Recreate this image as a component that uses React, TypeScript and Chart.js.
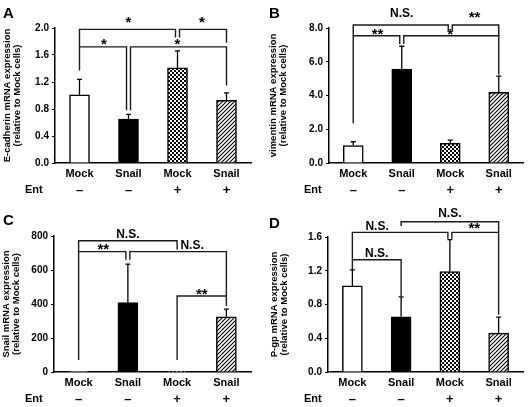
import React, { useEffect, useRef } from 'react';
import { Chart, registerables } from 'chart.js';
Chart.register(...registerables);

const FONT = "'Liberation Sans', Arial, sans-serif";

// ---- data ----
const categories = ['Mock', 'Snail', 'Mock', 'Snail'];
const entTreatment = ['–', '–', '+', '+'];

const eCadherinMeans = [1.01, 0.65, 1.41, 0.93];
const eCadherinErrors = [0.23, 0.07, 0.25, 0.11];
const vimentinMeans = [1.03, 5.57, 1.17, 4.19];
const vimentinErrors = [0.23, 1.35, 0.19, 0.96];
const snailMeans = [1, 408, 1.5, 325];
const snailErrors = [0, 227, 0, 45];
const pgpMeans = [1.02, 0.655, 1.19, 0.46];
const pgpErrors = [0.19, 0.235, 0.38, 0.19];

// significance brackets: group indices, bracket level and leg ends in data units
const eCadherinBrackets = [
  { from: 0, to: 2, level: 1.98, leftEnd: 1.72, rightEnd: 1.86, label: '*', lift: 9, shift: 0 },
  { from: 2, to: 3, level: 1.98, leftEnd: 1.86, rightEnd: 1.78, label: '*', lift: 9, shift: 0 },
  { from: 0, to: 1, level: 1.72, leftEnd: 1.37, rightEnd: 0.78, label: '*', lift: 5, shift: 0 },
  { from: 1, to: 3, level: 1.72, leftEnd: 0.78, rightEnd: 1.15, label: '*', lift: 5, shift: 0 },
];
const vimentinBrackets = [
  { from: 0, to: 2, level: 8.18, leftEnd: 7.54, rightEnd: 7.84, label: 'N.S.', lift: 12, shift: 0 },
  { from: 2, to: 3, level: 8.18, leftEnd: 7.84, rightEnd: 7.54, label: '**', lift: 10, shift: 0 },
  { from: 0, to: 1, level: 7.54, leftEnd: 2.35, rightEnd: 7.05, label: '**', lift: 4, shift: 0 },
  { from: 1, to: 3, level: 7.54, leftEnd: 7.05, rightEnd: 5.25, label: '*', lift: 4, shift: 0 },
];
const snailBrackets = [
  { from: 0, to: 2, level: 772, leftEnd: 708, rightEnd: 721, label: 'N.S.', lift: 7, shift: 0 },
  { from: 0, to: 1, level: 708, leftEnd: 70, rightEnd: 660, label: '**', lift: 5, shift: 0 },
  { from: 1, to: 3, level: 708, leftEnd: 660, rightEnd: 447, label: 'N.S.', lift: 7, shift: 15 },
  { from: 2, to: 3, level: 447, leftEnd: 70, rightEnd: 388, label: '**', lift: 4, shift: 0 },
];
const pgpBrackets = [
  { from: 1, to: 3, level: 1.78, leftEnd: 1.73, rightEnd: 1.655, label: 'N.S.', lift: 9, shift: 0 },
  { from: 0, to: 2, level: 1.655, leftEnd: 1.33, rightEnd: 1.58, label: 'N.S.', lift: 7, shift: -24 },
  { from: 2, to: 3, level: 1.655, leftEnd: 1.58, rightEnd: 0.68, label: '**', lift: 6, shift: 0 },
  { from: 0, to: 1, level: 1.33, leftEnd: 1.21, rightEnd: 0.9, label: 'N.S.', lift: 7, shift: 0 },
];

type Bracket = { from: number; to: number; level: number; leftEnd: number; rightEnd: number; label: string; lift: number; shift: number };

type PanelCfg = {
  letter: string;
  title: string[];
  means: number[];
  errors: number[];
  brackets: Bracket[];
  yMax: number;
  step: number;
  decimals: number;
  x: number; y: number; w: number; h: number;
  left: number; top: number; right: number; bottomH: number;
  letterPos: number[];
  titleX: number[];
  entX: number;
};

const panels: PanelCfg[] = [
  {
    letter: 'A', title: ['E-cadherin mRNA expression', '(relative to Mock cells)'],
    means: eCadherinMeans, errors: eCadherinErrors, brackets: eCadherinBrackets,
    yMax: 2.0, step: 0.4, decimals: 1,
    x: 0, y: 0, w: 264, h: 200, left: 55, top: 28, right: 13, bottomH: 37,
    letterPos: [3, 18], titleX: [7, 17], entX: 25,
  },
  {
    letter: 'B', title: ['vimentin mRNA expression', '(relative to Mock cells)'],
    means: vimentinMeans, errors: vimentinErrors, brackets: vimentinBrackets,
    yMax: 8.0, step: 2.0, decimals: 1,
    x: 264, y: 0, w: 264, h: 200, left: 65, top: 28, right: 5, bottomH: 37,
    letterPos: [5, 18], titleX: [9, 19], entX: 40,
  },
  {
    letter: 'C', title: ['Snail mRNA expression', '(relative to Mock cells)'],
    means: snailMeans, errors: snailErrors, brackets: snailBrackets,
    yMax: 800, step: 200, decimals: 0,
    x: 0, y: 200, w: 264, h: 207, left: 54, top: 36, right: 13, bottomH: 35,
    letterPos: [3, 25], titleX: [6, 16], entX: 25,
  },
  {
    letter: 'D', title: ['P-gp mRNA expression', '(relative to Mock cells)'],
    means: pgpMeans, errors: pgpErrors, brackets: pgpBrackets,
    yMax: 1.6, step: 0.4, decimals: 1,
    x: 264, y: 200, w: 264, h: 207, left: 64, top: 37, right: 5, bottomH: 35,
    letterPos: [5, 28], titleX: [10, 20], entX: 40,
  },
];

function makePattern(kind: 'checker' | 'hatch'): CanvasPattern | string {
  const c = document.createElement('canvas');
  c.width = 4; c.height = 4;
  const g = c.getContext('2d');
  if (!g) return '#888';
  g.fillStyle = '#fff';
  g.fillRect(0, 0, 4, 4);
  g.fillStyle = '#000';
  if (kind === 'checker') {
    g.fillRect(0, 0, 2, 2);
    g.fillRect(2, 2, 2, 2);
  } else {
    g.strokeStyle = '#000';
    g.lineWidth = 1.1;
    g.beginPath();
    g.moveTo(-1, 5); g.lineTo(5, -1);
    g.moveTo(-1, 1); g.lineTo(1, -1);
    g.moveTo(3, 5); g.lineTo(5, 3);
    g.stroke();
  }
  return g.createPattern(c, 'repeat') || '#888';
}

function makeAnnotationPlugin(cfg: PanelCfg) {
  return {
    id: 'panelAnnotations' + cfg.letter,
    afterDraw(chart: any) {
      const ctx: CanvasRenderingContext2D = chart.ctx;
      const xs = chart.scales.x;
      const ys = chart.scales.y;
      const area = chart.chartArea;
      const px = (i: number) => xs.getPixelForValue(i);
      const py = (v: number) => ys.getPixelForValue(v);
      ctx.save();

      // error bars (upper only)
      ctx.strokeStyle = '#000';
      ctx.lineWidth = 1.3;
      cfg.means.forEach((m, i) => {
        const e = cfg.errors[i];
        if (!e) return;
        const x = px(i);
        const top = py(m + e);
        const base = py(m);
        ctx.beginPath();
        ctx.moveTo(x, base);
        ctx.lineTo(x, top);
        ctx.moveTo(x - 2.5, top);
        ctx.lineTo(x + 2.5, top);
        ctx.stroke();
      });

      // brackets
      const counts: Record<string, number> = {};
      cfg.brackets.forEach((b) => {
        const k1 = b.from + '@' + b.level;
        const k2 = b.to + '@' + b.level;
        counts[k1] = (counts[k1] || 0) + 1;
        counts[k2] = (counts[k2] || 0) + 1;
      });
      ctx.strokeStyle = '#1a1a1a';
      ctx.lineWidth = 1.4;
      cfg.brackets.forEach((b) => {
        const dl = counts[b.from + '@' + b.level] > 1 ? 2 : 0;
        const dr = counts[b.to + '@' + b.level] > 1 ? 2 : 0;
        const xl = px(b.from) + dl;
        const xr = px(b.to) - dr;
        const yl = py(b.level);
        ctx.beginPath();
        ctx.moveTo(xl, py(b.leftEnd));
        ctx.lineTo(xl, yl);
        ctx.lineTo(xr, yl);
        ctx.lineTo(xr, py(b.rightEnd));
        ctx.stroke();
      });
      ctx.fillStyle = '#000';
      ctx.textAlign = 'center';
      ctx.textBaseline = 'alphabetic';
      cfg.brackets.forEach((b) => {
        const isStar = b.label.indexOf('*') >= 0;
        ctx.font = isStar ? `bold 15px ${FONT}` : `bold 12px ${FONT}`;
        const m = ctx.measureText(b.label);
        const cx = (px(b.from) + px(b.to)) / 2 + b.shift;
        const cy = py(b.level) - b.lift;
        const baseY = cy + (m.actualBoundingBoxAscent - m.actualBoundingBoxDescent) / 2;
        ctx.fillText(b.label, cx, baseY);
      });

      // panel letter
      ctx.textAlign = 'left';
      ctx.font = `bold 15px ${FONT}`;
      ctx.fillText(cfg.letter, cfg.letterPos[0], cfg.letterPos[1]);

      // y-axis title (two lines, rotated)
      ctx.font = `bold 9.5px ${FONT}`;
      ctx.textAlign = 'center';
      ctx.textBaseline = 'middle';
      const cyMid = (area.top + area.bottom) / 2;
      cfg.title.forEach((line, k) => {
        ctx.save();
        ctx.translate(cfg.titleX[k], cyMid);
        ctx.rotate(-Math.PI / 2);
        ctx.fillText(line, 0, 0);
        ctx.restore();
      });

      // Ent row
      const entY = area.bottom + 27;
      ctx.font = `bold 11px ${FONT}`;
      ctx.textAlign = 'left';
      ctx.fillText('Ent', cfg.entX, entY);
      ctx.textAlign = 'center';
      ctx.font = `bold 13px ${FONT}`;
      entTreatment.forEach((s, i) => {
        ctx.fillText(s, px(i), entY);
      });

      ctx.restore();
    },
  };
}

function Panel({ cfg }: { cfg: PanelCfg }) {
  const ref = useRef<HTMLCanvasElement | null>(null);
  useEffect(() => {
    if (!ref.current) return;
    const fills = ['#ffffff', '#000000', makePattern('checker'), makePattern('hatch')];
    const chart = new Chart(ref.current, {
      type: 'bar',
      data: {
        labels: categories,
        datasets: [
          {
            data: cfg.means,
            backgroundColor: fills as any,
            borderColor: '#000',
            borderWidth: 1.5,
            barThickness: 20,
            borderSkipped: 'bottom',
          },
        ],
      },
      options: {
        responsive: false,
        animation: false,
        devicePixelRatio: 1,
        layout: { padding: { top: cfg.top, right: cfg.right, left: 0, bottom: 0 } },
        plugins: { legend: { display: false }, tooltip: { enabled: false } },
        scales: {
          x: {
            type: 'category',
            offset: true,
            grid: { display: false, drawTicks: false },
            border: { display: true, color: '#000', width: 1.5 },
            ticks: {
              color: '#000',
              font: { family: FONT, size: 11, weight: 'bold' },
              padding: 4,
              maxRotation: 0,
              autoSkip: false,
            },
            afterFit: (s: any) => { s.height = cfg.bottomH; },
          },
          y: {
            min: 0,
            max: cfg.yMax,
            grid: { drawOnChartArea: false, drawTicks: true, tickLength: 3, color: '#000', lineWidth: 1 },
            border: { display: true, color: '#000', width: 1.5 },
            ticks: {
              stepSize: cfg.step,
              color: '#000',
              font: { family: FONT, size: 10, weight: 'bold' },
              padding: 3,
              callback: (v: any) => Number(v).toFixed(cfg.decimals),
            },
            afterFit: (s: any) => { s.width = cfg.left; },
          },
        },
      } as any,
      plugins: [makeAnnotationPlugin(cfg)],
    });
    return () => chart.destroy();
  }, [cfg]);
  return (
    <canvas
      ref={ref}
      width={cfg.w}
      height={cfg.h}
      style={{ position: 'absolute', left: cfg.x, top: cfg.y, width: cfg.w, height: cfg.h }}
    />
  );
}

export default function App() {
  return (
    <div style={{ position: 'fixed', left: 0, top: 0, width: 528, height: 407, background: '#fff' }}>
      {panels.map((p) => (
        <Panel key={p.letter} cfg={p} />
      ))}
    </div>
  );
}
